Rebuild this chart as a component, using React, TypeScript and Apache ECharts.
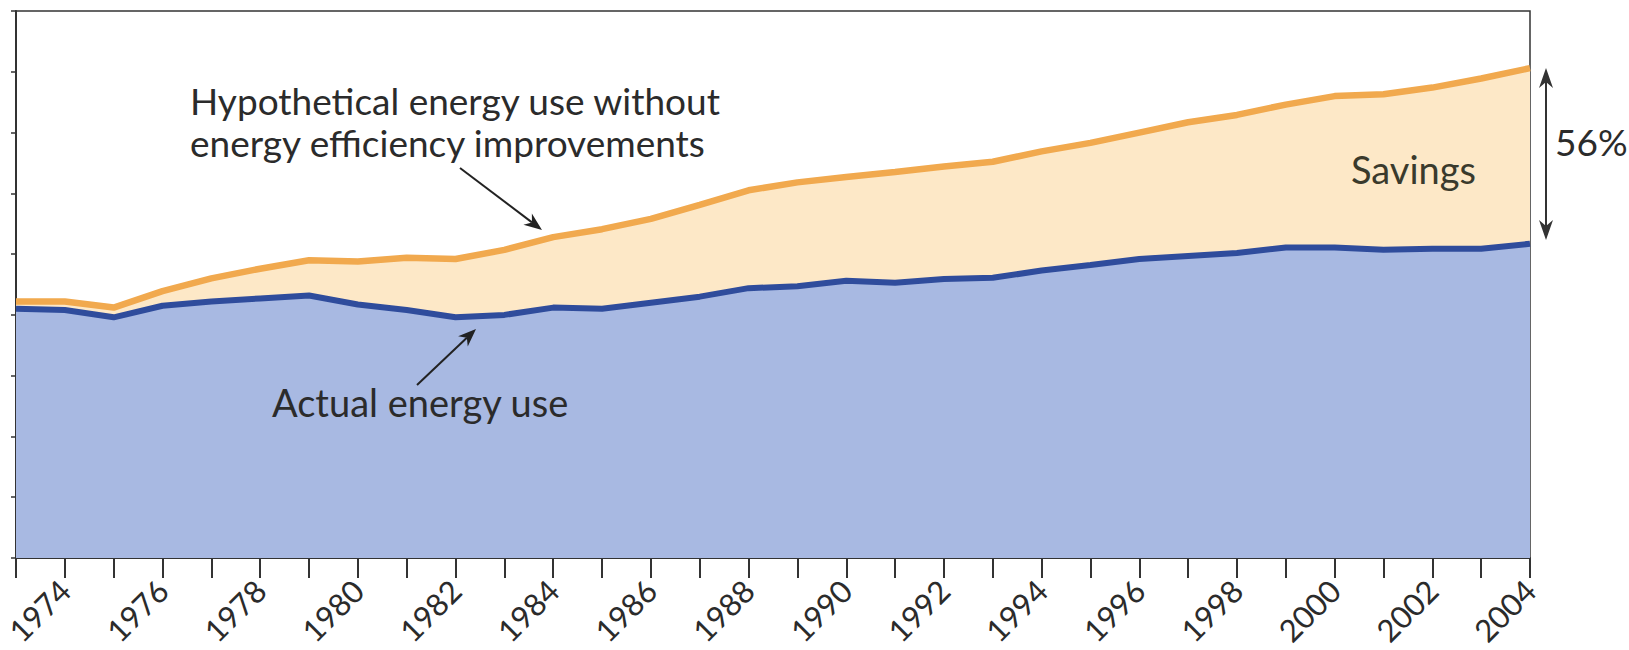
import React, { useEffect, useRef } from "react";
import * as echarts from "echarts";

const years = [
  "1973", "1974", "1975", "1976", "1977", "1978", "1979", "1980", "1981", "1982",
  "1983", "1984", "1985", "1986", "1987", "1988", "1989", "1990", "1991", "1992",
  "1993", "1994", "1995", "1996", "1997", "1998", "1999", "2000", "2001", "2002",
  "2003", "2004",
];

const hypothetical = [
  4.22, 4.22, 4.12, 4.39, 4.6, 4.76, 4.9, 4.88, 4.94, 4.92,
  5.07, 5.28, 5.41, 5.58, 5.81, 6.05, 6.18, 6.27, 6.35, 6.44,
  6.52, 6.69, 6.83, 7.0, 7.17, 7.29, 7.46, 7.6, 7.63, 7.74,
  7.89, 8.06,
];

const actual = [
  4.1, 4.08, 3.96, 4.15, 4.22, 4.27, 4.32, 4.17, 4.08, 3.96,
  4.0, 4.12, 4.1, 4.2, 4.3, 4.44, 4.47, 4.56, 4.53, 4.59,
  4.61, 4.73, 4.82, 4.92, 4.97, 5.02, 5.11, 5.11, 5.07, 5.09,
  5.09, 5.17,
];

const labelHypo1 = "Hypothetical energy use without";
const labelHypo2 = "energy efficiency improvements";
const labelActual = "Actual energy use";
const labelSavings = "Savings";
const labelPct = "56%";

const FONT = "Lato, 'Open Sans', sans-serif";
const TEXT_COLOR = "#2b2b2b";

function arrow(x1: number, y1: number, x2: number, y2: number, color: string, size = 18, half = 7) {
  const dx = x2 - x1;
  const dy = y2 - y1;
  const len = Math.sqrt(dx * dx + dy * dy);
  const ux = dx / len;
  const uy = dy / len;
  const px = -uy;
  const py = ux;
  const bx = x2 - ux * size;
  const by = y2 - uy * size;
  const nx = x2 - ux * size * 0.7;
  const ny = y2 - uy * size * 0.7;
  return [
    {
      type: "line",
      shape: { x1, y1, x2: nx, y2: ny },
      style: { stroke: color, lineWidth: 2 },
      z: 100,
    },
    {
      type: "polygon",
      shape: {
        points: [
          [x2, y2],
          [bx + px * half, by + py * half],
          [nx, ny],
          [bx - px * half, by - py * half],
        ],
      },
      style: { fill: color },
      z: 100,
    },
  ];
}

export default function App() {
  const ref = useRef<HTMLDivElement>(null);

  useEffect(() => {
    document.body.style.margin = "0";
    if (!ref.current) return;
    const chart = echarts.init(ref.current, null, { renderer: "svg" });

    const graphics: any[] = [
      {
        type: "text",
        left: 190,
        top: 82,
        style: { text: labelHypo1, font: `37px ${FONT}`, fill: TEXT_COLOR },
        z: 100,
      },
      {
        type: "text",
        left: 190,
        top: 124,
        style: { text: labelHypo2, font: `37px ${FONT}`, fill: TEXT_COLOR },
        z: 100,
      },
      {
        type: "text",
        left: 272,
        top: 383,
        style: { text: labelActual, font: `38px ${FONT}`, fill: TEXT_COLOR },
        z: 100,
      },
      {
        type: "text",
        left: 1351,
        top: 150,
        style: { text: labelSavings, font: `38px ${FONT}`, fill: "#3a3a2c" },
        z: 100,
      },
      {
        type: "text",
        left: 1555,
        top: 123,
        style: { text: labelPct, font: `37px ${FONT}`, fill: TEXT_COLOR },
        z: 100,
      },
      ...arrow(460, 168, 542, 230, "#222"),
      ...arrow(417, 385, 476, 329, "#222"),
      ...arrow(1546, 154, 1546, 68, "#333", 20, 7),
      ...arrow(1546, 154, 1546, 240, "#333", 20, 7),
    ];

    chart.setOption({
      animation: false,
      backgroundColor: "#ffffff",
      grid: {
        left: 16,
        right: 99,
        top: 11,
        bottom: 92,
        outerBoundsMode: "none",
        containLabel: false,
        show: true,
        borderColor: "#333",
        borderWidth: 1.5,
        backgroundColor: "transparent",
      },
      xAxis: {
        type: "category",
        data: years,
        boundaryGap: false,
        axisLine: { show: true, lineStyle: { color: "#333", width: 2 } },
        axisTick: {
          show: true,
          interval: 0,
          length: 20,
          lineStyle: { color: "#333", width: 2 },
        },
        axisLabel: {
          interval: (index: number, value: string) => Number(value) % 2 === 0,
          rotate: 45,
          margin: 27,
          fontSize: 31,
          fontFamily: FONT,
          color: TEXT_COLOR,
        },
        splitLine: { show: false },
      },
      yAxis: {
        type: "value",
        min: 0,
        max: 9,
        interval: 1,
        axisLine: { show: true, lineStyle: { color: "#333", width: 2 } },
        axisTick: { show: true, length: 5, lineStyle: { color: "#333", width: 1.5 } },
        axisLabel: { show: false },
        splitLine: { show: false },
      },
      series: [
        {
          name: "Hypothetical",
          type: "line",
          data: hypothetical,
          symbol: "none",
          lineStyle: { color: "#f1a94e", width: 6.5 },
          areaStyle: { color: "#fde8c7", opacity: 1 },
          z: 2,
        },
        {
          name: "Actual",
          type: "line",
          data: actual,
          symbol: "none",
          lineStyle: { color: "#2f4c9c", width: 6 },
          areaStyle: { color: "#a8b9e2", opacity: 1 },
          z: 3,
        },
      ],
      graphic: graphics,
    });

    return () => {
      chart.dispose();
    };
  }, []);

  return <div ref={ref} style={{ width: 1629, height: 650 }} />;
}
